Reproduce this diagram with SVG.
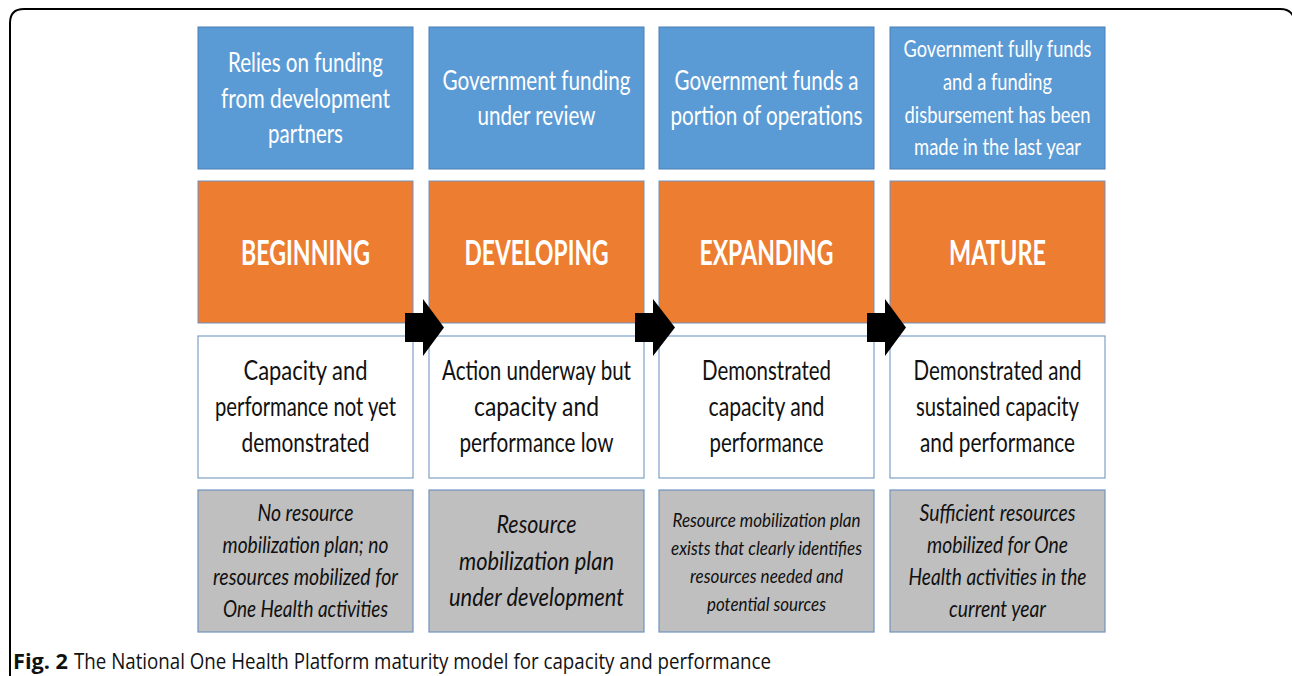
<svg xmlns="http://www.w3.org/2000/svg" width="1292" height="676" viewBox="0 0 1292 676">
<style>
.blue{fill:#5b9bd5;stroke:#4a7fb5;stroke-width:1}
.orange{fill:#ed7d31;stroke:#6f93c0;stroke-width:1}
.white{fill:#ffffff;stroke:#7fa0c8;stroke-width:1.2}
.gray{fill:#bfbfbf;stroke:#6f93c0;stroke-width:1.2}
text{font-family:Lato,"Open Sans","DejaVu Sans",sans-serif;text-anchor:middle}
.tb{fill:#ffffff;font-size:26px}
.tb4{fill:#ffffff;font-size:23px}
.to{fill:#ffffff;font-size:34px;font-weight:bold}
.tw{fill:#111111;font-size:26px}
.tg{fill:#111111;font-style:italic;font-size:23px}
.tg2{fill:#111111;font-style:italic;font-size:26px}
.tg3{fill:#111111;font-style:italic;font-size:20px}
.cap{font-family:"Open Sans","DejaVu Sans",sans-serif;font-size:21px;fill:#111111;text-anchor:start}
.arrow{fill:#000000}
</style>
<path d="M10,676 V23 Q10,9 24,9 H1280 Q1291,9 1294,18" fill="none" stroke="#000000" stroke-width="2"/>

<g id="col1">
<g id="fund1"><rect class="blue" x="198" y="27" width="215" height="142"/>
<text class="tb" x="305.5" y="72" textLength="155" lengthAdjust="spacingAndGlyphs">Relies on funding</text>
<text class="tb" x="305.5" y="108" textLength="169" lengthAdjust="spacingAndGlyphs">from development</text>
<text class="tb" x="305.5" y="143" textLength="75" lengthAdjust="spacingAndGlyphs">partners</text></g>
<g id="stage1"><rect class="orange" x="198" y="181" width="215" height="142"/>
<text class="to" x="305.5" y="265" textLength="129" lengthAdjust="spacingAndGlyphs">BEGINNING</text></g>
<g id="cap1"><rect class="white" x="198" y="336" width="215" height="142"/>
<text class="tw" x="305.5" y="380" textLength="124" lengthAdjust="spacingAndGlyphs">Capacity and</text>
<text class="tw" x="305.5" y="416" textLength="181" lengthAdjust="spacingAndGlyphs">performance not yet</text>
<text class="tw" x="305.5" y="452" textLength="128" lengthAdjust="spacingAndGlyphs">demonstrated</text></g>
<g id="res1"><rect class="gray" x="198" y="490" width="215" height="142"/>
<text class="tg" x="305.5" y="521" textLength="96" lengthAdjust="spacingAndGlyphs">No resource</text>
<text class="tg" x="305.5" y="553" textLength="166" lengthAdjust="spacingAndGlyphs">mobilization plan; no</text>
<text class="tg" x="305.5" y="585" textLength="185" lengthAdjust="spacingAndGlyphs">resources mobilized for</text>
<text class="tg" x="305.5" y="617" textLength="165" lengthAdjust="spacingAndGlyphs">One Health activities</text></g>
</g>

<g id="col2">
<g id="fund2"><rect class="blue" x="429" y="27" width="215" height="142"/>
<text class="tb" x="536.5" y="90" textLength="188" lengthAdjust="spacingAndGlyphs">Government funding</text>
<text class="tb" x="536.5" y="125" textLength="118" lengthAdjust="spacingAndGlyphs">under review</text></g>
<g id="stage2"><rect class="orange" x="429" y="181" width="215" height="142"/>
<text class="to" x="536.5" y="265" textLength="144" lengthAdjust="spacingAndGlyphs">DEVELOPING</text></g>
<g id="cap2"><rect class="white" x="429" y="336" width="215" height="142"/>
<text class="tw" x="536.5" y="380" textLength="189" lengthAdjust="spacingAndGlyphs">Action underway but</text>
<text class="tw" x="536.5" y="416" textLength="125" lengthAdjust="spacingAndGlyphs">capacity and</text>
<text class="tw" x="536.5" y="452" textLength="154" lengthAdjust="spacingAndGlyphs">performance low</text></g>
<g id="res2"><rect class="gray" x="429" y="490" width="215" height="142"/>
<text class="tg2" x="536.5" y="533" textLength="80" lengthAdjust="spacingAndGlyphs">Resource</text>
<text class="tg2" x="536.5" y="570" textLength="155" lengthAdjust="spacingAndGlyphs">mobilization plan</text>
<text class="tg2" x="536.5" y="606" textLength="175" lengthAdjust="spacingAndGlyphs">under development</text></g>
</g>

<g id="col3">
<g id="fund3"><rect class="blue" x="659" y="27" width="215" height="142"/>
<text class="tb" x="766.5" y="90" textLength="184" lengthAdjust="spacingAndGlyphs">Government funds a</text>
<text class="tb" x="766.5" y="125" textLength="192" lengthAdjust="spacingAndGlyphs">portion of operations</text></g>
<g id="stage3"><rect class="orange" x="659" y="181" width="215" height="142"/>
<text class="to" x="766.5" y="265" textLength="134" lengthAdjust="spacingAndGlyphs">EXPANDING</text></g>
<g id="cap3"><rect class="white" x="659" y="336" width="215" height="142"/>
<text class="tw" x="766.5" y="380" textLength="129" lengthAdjust="spacingAndGlyphs">Demonstrated</text>
<text class="tw" x="766.5" y="416" textLength="116" lengthAdjust="spacingAndGlyphs">capacity and</text>
<text class="tw" x="766.5" y="452" textLength="114" lengthAdjust="spacingAndGlyphs">performance</text></g>
<g id="res3"><rect class="gray" x="659" y="490" width="215" height="142"/>
<text class="tg3" x="766.5" y="527" textLength="188" lengthAdjust="spacingAndGlyphs">Resource mobilization plan</text>
<text class="tg3" x="766.5" y="555" textLength="191" lengthAdjust="spacingAndGlyphs">exists that clearly identifies</text>
<text class="tg3" x="766.5" y="583" textLength="153" lengthAdjust="spacingAndGlyphs">resources needed and</text>
<text class="tg3" x="766.5" y="611" textLength="119" lengthAdjust="spacingAndGlyphs">potential sources</text></g>
</g>

<g id="col4">
<g id="fund4"><rect class="blue" x="890" y="27" width="215" height="142"/>
<text class="tb4" x="997.5" y="57" textLength="188" lengthAdjust="spacingAndGlyphs">Government fully funds</text>
<text class="tb4" x="997.5" y="90" textLength="109" lengthAdjust="spacingAndGlyphs">and a funding</text>
<text class="tb4" x="997.5" y="123" textLength="186" lengthAdjust="spacingAndGlyphs">disbursement has been</text>
<text class="tb4" x="997.5" y="155" textLength="167" lengthAdjust="spacingAndGlyphs">made in the last year</text></g>
<g id="stage4"><rect class="orange" x="890" y="181" width="215" height="142"/>
<text class="to" x="997.5" y="265" textLength="97" lengthAdjust="spacingAndGlyphs">MATURE</text></g>
<g id="cap4"><rect class="white" x="890" y="336" width="215" height="142"/>
<text class="tw" x="997.5" y="380" textLength="168" lengthAdjust="spacingAndGlyphs">Demonstrated and</text>
<text class="tw" x="997.5" y="416" textLength="163" lengthAdjust="spacingAndGlyphs">sustained capacity</text>
<text class="tw" x="997.5" y="452" textLength="155" lengthAdjust="spacingAndGlyphs">and performance</text></g>
<g id="res4"><rect class="gray" x="890" y="490" width="215" height="142"/>
<text class="tg" x="997.5" y="521" textLength="156" lengthAdjust="spacingAndGlyphs">Sufficient resources</text>
<text class="tg" x="997.5" y="553" textLength="141" lengthAdjust="spacingAndGlyphs">mobilized for One</text>
<text class="tg" x="997.5" y="585" textLength="178" lengthAdjust="spacingAndGlyphs">Health activities in the</text>
<text class="tg" x="997.5" y="617" textLength="97" lengthAdjust="spacingAndGlyphs">current year</text></g>
</g>

<g id="connectors">
<path class="arrow" d="M405,313 H423 V299 L444,327.5 L423,356 V342 H405 Z"/>
<path class="arrow" d="M635,313 H653 V299 L675,327.5 L653,356 V342 H635 Z"/>
<path class="arrow" d="M867,313 H885 V299 L906,327.5 L885,356 V342 H867 Z"/>
</g>

<g id="caption">
<text class="cap" x="13" y="669"><tspan font-weight="bold" textLength="55" lengthAdjust="spacingAndGlyphs">Fig. 2</tspan><tspan x="74" textLength="697" lengthAdjust="spacingAndGlyphs">The National One Health Platform maturity model for capacity and performance</tspan></text>
</g>
</svg>
